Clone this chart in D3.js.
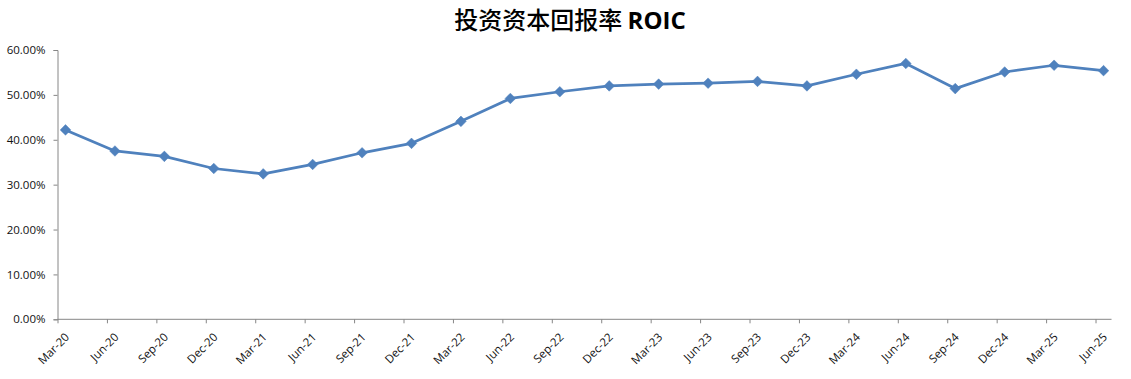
<!DOCTYPE html>
<html>
<head>
<meta charset="utf-8">
<script src="https://cdn.jsdelivr.net/npm/d3@7"></script>
<style>
  body { margin: 0; background: #fff; }
  .axis text { font-family: "Open Sans", "Liberation Sans", sans-serif; font-size: 11.5px; fill: #111; }
</style>
</head>
<body>
<div id="chart"></div>
<script>
const quarters = ['Mar-20', 'Jun-20', 'Sep-20', 'Dec-20', 'Mar-21', 'Jun-21', 'Sep-21', 'Dec-21',
  'Mar-22', 'Jun-22', 'Sep-22', 'Dec-22', 'Mar-23', 'Jun-23', 'Sep-23', 'Dec-23',
  'Mar-24', 'Jun-24', 'Sep-24', 'Dec-24', 'Mar-25', 'Jun-25'];
const roic = [42.2, 37.5, 36.3, 33.6, 32.4, 34.5, 37.1, 39.2,
  44.1, 49.2, 50.7, 52.0, 52.4, 52.6, 53.0, 52.0,
  54.6, 57.0, 51.4, 55.1, 56.6, 55.4];
const yTicks = [0, 10, 20, 30, 40, 50, 60];

const width = 1131;
const height = 379;
const margin = { top: 50, right: 19, bottom: 60, left: 57.5 };

const svg = d3.select('#chart')
  .append('svg')
  .attr('width', width)
  .attr('height', height);

// title
const title = svg.append('text')
  .attr('x', 570)
  .attr('y', 29)
  .attr('text-anchor', 'middle')
  .style('font-size', '24px')
  .style('fill', '#000');
title.append('tspan')
  .style('font-family', '"Noto Sans CJK SC", sans-serif')
  .style('font-weight', 500)
  .text('投资资本回报率 ');
title.append('tspan')
  .style('font-family', '"Open Sans", "Liberation Sans", sans-serif')
  .style('font-weight', 'bold')
  .text('ROIC');

// points sit a bit right of their tick marks (Excel date axis)
const step = 49.43;
const offset = 8;
const x = d3.scaleLinear()
  .domain([0, quarters.length - 1])
  .range([margin.left + offset, margin.left + offset + step * (quarters.length - 1)]);
const y = d3.scaleLinear()
  .domain([0, 60])
  .range([319.3, margin.top]);

const axisRight = x(quarters.length - 1) + offset;

// y axis
const yAxis = svg.append('g')
  .attr('class', 'axis')
  .attr('transform', `translate(${margin.left},0)`)
  .call(d3.axisLeft(y).tickValues(yTicks).tickSize(4).tickPadding(8)
    .tickFormat(d => d.toFixed(2) + '%'));
yAxis.selectAll('line, path').attr('stroke', '#868686');

// x axis
const tickScale = d3.scaleLinear()
  .domain([0, quarters.length - 1])
  .range([margin.left, margin.left + step * (quarters.length - 1)]);
const xAxis = svg.append('g')
  .attr('class', 'axis')
  .attr('transform', `translate(0,${y(0)})`)
  .call(d3.axisBottom(tickScale).tickValues(d3.range(quarters.length))
    .tickSize(4).tickSizeOuter(0).tickFormat(i => quarters[i]));
xAxis.select('.domain')
  .attr('d', `M${margin.left},0H${axisRight}`)
  .attr('stroke', '#868686');
xAxis.selectAll('line').attr('stroke', '#868686');
xAxis.selectAll('text')
  .attr('text-anchor', 'end')
  .attr('dx', '-0.1em')
  .attr('dy', '0.35em')
  .attr('transform', 'translate(5,10) rotate(-45)');

// line
const line = d3.line()
  .x((d, i) => x(i))
  .y(d => y(d));

svg.append('path')
  .datum(roic)
  .attr('fill', 'none')
  .attr('stroke', '#4f81bd')
  .attr('stroke-width', 2.75)
  .attr('stroke-linejoin', 'round')
  .attr('d', line);

// diamond markers
svg.selectAll('.marker')
  .data(roic)
  .enter()
  .append('path')
  .attr('class', 'marker')
  .attr('d', d3.symbol(d3.symbolDiamond2, 72))
  .attr('transform', (d, i) => `translate(${x(i)},${y(d)})`)
  .attr('fill', '#4f81bd')
  .attr('stroke', '#4f81bd')
  .attr('stroke-width', 0.5);
</script>
</body>
</html>
